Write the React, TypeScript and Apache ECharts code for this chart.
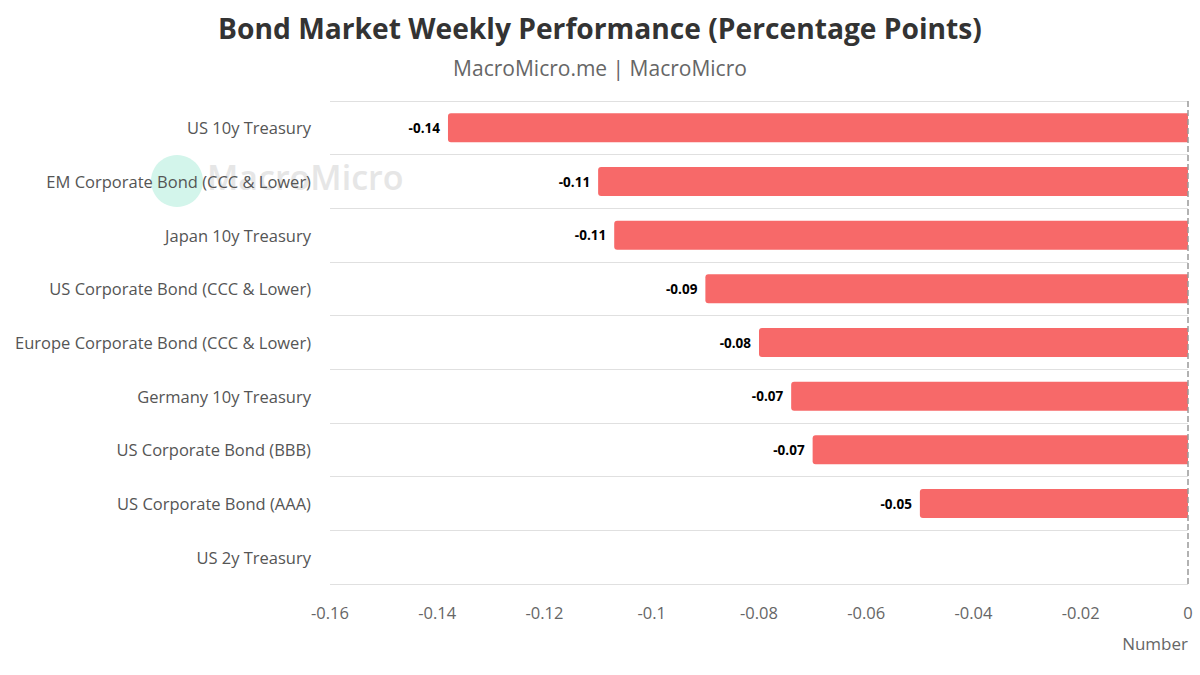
import React, { useEffect, useRef } from "react";
import * as echarts from "echarts";

const categories = [
  "US 10y Treasury",
  "EM Corporate Bond (CCC & Lower)",
  "Japan 10y Treasury",
  "US Corporate Bond (CCC & Lower)",
  "Europe Corporate Bond (CCC & Lower)",
  "Germany 10y Treasury",
  "US Corporate Bond (BBB)",
  "US Corporate Bond (AAA)",
  "US 2y Treasury",
];
const values = [-0.138, -0.11, -0.107, -0.09, -0.08, -0.074, -0.07, -0.05, 0];
const xMin = -0.16;
const xMax = 0;
const xStep = 0.02;

const FONT = "'Open Sans', 'Noto Sans', sans-serif";

export default function App() {
  const ref = useRef<HTMLDivElement>(null);
  useEffect(() => {
    document.body.style.margin = "0";
    if (!ref.current) return;
    const chart = echarts.init(ref.current, undefined, { renderer: "svg" });
    chart.setOption({
      animation: false,
      backgroundColor: "#ffffff",
      textStyle: { fontFamily: FONT },
      title: {
        text: "Bond Market Weekly Performance (Percentage Points)",
        subtext: "MacroMicro.me | MacroMicro",
        left: "center",
        top: 9,
        itemGap: 15,
        textStyle: { fontFamily: FONT, fontSize: 28.2, fontWeight: "bold", color: "#333333" },
        subtextStyle: { fontFamily: FONT, fontSize: 21, color: "#666666" },
      },
      graphic: [
        {
          type: "circle",
          z: -10,
          shape: { cx: 177, cy: 181, r: 26 },
          style: { fill: "#d3f5eb" },
          silent: true,
        },
        {
          type: "text",
          z: -10,
          left: 207,
          top: 160,
          style: {
            text: "MacroMicro",
            fontFamily: FONT,
            fontSize: 34,
            fontWeight: 600,
            fill: "#e6e6e6",
          },
          silent: true,
        },
        {
          type: "text",
          right: 12,
          top: 635,
          style: {
            text: "Number",
            fontFamily: FONT,
            fontSize: 17,
            fill: "#666666",
            align: "right",
          },
        },
      ],
      grid: { left: 330, right: 12, top: 101, bottom: 91, containLabel: false },
      xAxis: {
        type: "value",
        min: xMin,
        max: xMax,
        interval: xStep,
        axisLine: { show: false },
        axisTick: { show: false },
        splitLine: { show: false },
        axisLabel: { fontFamily: FONT, fontSize: 16.5, color: "#666666", margin: 20 },
      },
      yAxis: {
        type: "category",
        data: categories,
        inverse: true,
        axisLine: { show: false, onZero: false },
        axisTick: { show: false },
        splitLine: { show: true, lineStyle: { color: "#e0e0e0", width: 1 } },
        axisLabel: { fontFamily: FONT, fontSize: 16.5, color: "#555555", margin: 19 },
      },
      series: [
        {
          type: "bar",
          data: values,
          barWidth: 29,
          itemStyle: { color: "#f76969", borderRadius: [3, 0, 0, 3] },
          label: {
            show: true,
            position: "left",
            distance: 8,
            fontFamily: FONT,
            fontSize: 13.5,
            fontWeight: "bold",
            color: "#000000",
            formatter: (p: any) => (p.value === 0 ? "" : Number(p.value).toFixed(2)),
          },
          markLine: {
            silent: true,
            symbol: "none",
            label: { show: false },
            lineStyle: { color: "#999999", type: "dashed", width: 1.5 },
            data: [{ xAxis: 0 }],
          },
        },
      ],
    });
    return () => chart.dispose();
  }, []);
  return <div ref={ref} style={{ width: 1200, height: 675 }} />;
}
